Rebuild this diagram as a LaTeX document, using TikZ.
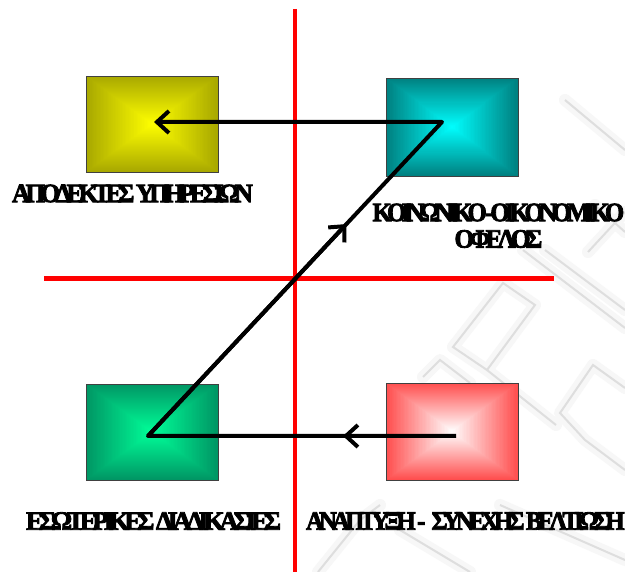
\documentclass[tikz,border=0pt]{standalone}
\usepackage{fontspec}
\usetikzlibrary{arrows.meta,calc}
\newfontface\lblfont{Liberation Serif Bold}[FakeBold=3.2]

\definecolor{oliveedge}{RGB}{168,168,0}
\definecolor{yellowcore}{RGB}{255,255,0}
\definecolor{tealedge}{RGB}{0,128,128}
\definecolor{tealcore}{RGB}{0,255,255}
\definecolor{greenedge}{RGB}{0,150,100}
\definecolor{greencore}{RGB}{0,255,153}
\definecolor{rededge}{RGB}{255,78,78}
\definecolor{redcore}{RGB}{255,255,255}

% tight letter spacing: a negative kern after every letter of a word
\def\tgt#1{\tgtloop#1\relax}
\def\tgtloop#1{\ifx\relax#1\else#1\kern-0.19em\relax\expandafter\tgtloop\fi}
% label text squeezed to a given width, caps height fixed
\newcommand{\caps}[2]{\resizebox{#1}{17.5pt}{\lblfont\fontsize{26}{26}\selectfont #2}}

\tikzset{
  axisline/.style={draw=red, line width=4.5pt},
  box/.style={draw=black!75, line width=0.8pt, minimum width=132pt,
    minimum height=96pt, inner sep=0pt},
  % rectangular gradient: edge colour #1 at the border, #2 in the middle
  pyramid/.style 2 args={box, fill=#1, path picture={
    \foreach \k in {1,...,48}{
      \pgfmathsetmacro\f{1-\k/48}
      \pgfmathsetmacro\p{100*\k/48}
      \fill[#2!\p!#1]
        ($(path picture bounding box.center)!\f!(path picture bounding box.north west)$)
        rectangle
        ($(path picture bounding box.center)!\f!(path picture bounding box.south east)$);
    }
  }},
  conn/.style={draw=black, line width=4pt, line join=round},
  tip/.style={-{Straight Barb[length=12pt,width=22pt]}},
  lbl/.style={inner sep=0pt, text=black},
  wm/.style={draw=black!13, line width=2pt, line join=miter},
  wmhaze/.style={draw=black!3, line width=12pt, line join=round, line cap=round},
}

\begin{document}
\begin{tikzpicture}[x=1pt, y=-1pt]
\useasboundingbox (0,0) rectangle (625,572);
\fill[white] (0,0) rectangle (625,572);

% faint key-pattern backdrop on the right
\foreach \sty in {wmhaze, wm}{
  \draw[\sty] (523,250) -- (625,328);
  \draw[\sty] (545,250) -- (625,310);
  \draw[\sty] (453,347) -- (503,283) -- (535,305) -- (487,370) -- cycle;
  \draw[\sty] (487,370) -- (556,425);
  \draw[\sty] (423,377) -- (440,360) -- (470,383);
  \draw[\sty] (625,388) -- (593,365) -- (560,413) -- (585,440) -- (625,470);
  \draw[\sty] (500,505) -- (625,560);
  \draw[\sty] (400,530) -- (470,572);
  \draw[\sty] (318,572) -- (360,520) -- (380,505);
  \draw[\sty] (565,100) -- (625,150);
  \draw[\sty] (595,205) -- (625,232);
  \draw[\sty] (588,252) -- (625,212);
}

% quadrant axes
\coordinate (vtop) at (295,9);
\coordinate (vbot) at (295,572);
\coordinate (hleft) at (44,278.5);
\coordinate (hright) at (554,278.5);
\draw[axisline] (vtop) -- (vbot);
\draw[axisline] (hleft) -- (hright);

% the four boxes
\node[pyramid={oliveedge}{yellowcore}] (clients) at (152,124) {};
\node[pyramid={tealedge}{tealcore}, minimum height=98pt] (benefit) at (452,127) {};
\node[pyramid={greenedge}{greencore}] (process) at (152,432) {};
\node[pyramid={rededge}{redcore}, minimum height=97pt] (growth) at (452,431.5) {};

% labels
\node[lbl] (lclients) at (130,193.5) {\caps{236pt}{\tgt{ΑΠΟΔΕΚΤΕΣ}\ \tgt{ΥΠΗΡΕΣΙΩΝ}}};
\node[lbl] (lbenefit1) at (496,212.5) {\caps{247pt}{\tgt{ΚΟΙΝΩΝΙΚΟ}\kern0.12em-\kern-0.12em\tgt{ΟΙΚΟΝΟΜΙΚΟ}}};
\node[lbl] (lbenefit2) at (496,239) {\caps{83pt}{\tgt{ΟΦΕΛΟΣ}}};
\node[lbl] (lprocess) at (151,521) {\caps{250pt}{\tgt{ΕΣΩΤΕΡΙΚΕΣ}\ \tgt{ΔΙΑΔΙΚΑΣΙΕΣ}}};
\node[lbl] (lgrowth) at (463,521) {\caps{314pt}{\tgt{ΑΝΑΠΤΥΞΗ}\ - \tgt{ΣΥΝΕΧΗΣ}\ \tgt{ΒΕΛΤΙΩΣΗ}}};

% the Z-shaped flow through the four boxes
\coordinate (p1) at ($(growth.center)+(4,4.5)$);
\coordinate (p2) at ($(process.center)+(-4,4)$);
\coordinate (p3) at ($(benefit.center)+(-10,-5)$);
\coordinate (p4) at ($(clients.center)+(2,-2)$);
\coordinate (m1) at ($(p1)!0.367!(p2)$);
\coordinate (m2) at ($(p2)!0.675!(p3)$);
\draw[conn, tip] (p1) -- (p2) -- (p3) -- (p4);
\draw[conn, tip] (p1) -- (m1);
\draw[conn, tip] (p2) -- (m2);
\end{tikzpicture}
\end{document}
